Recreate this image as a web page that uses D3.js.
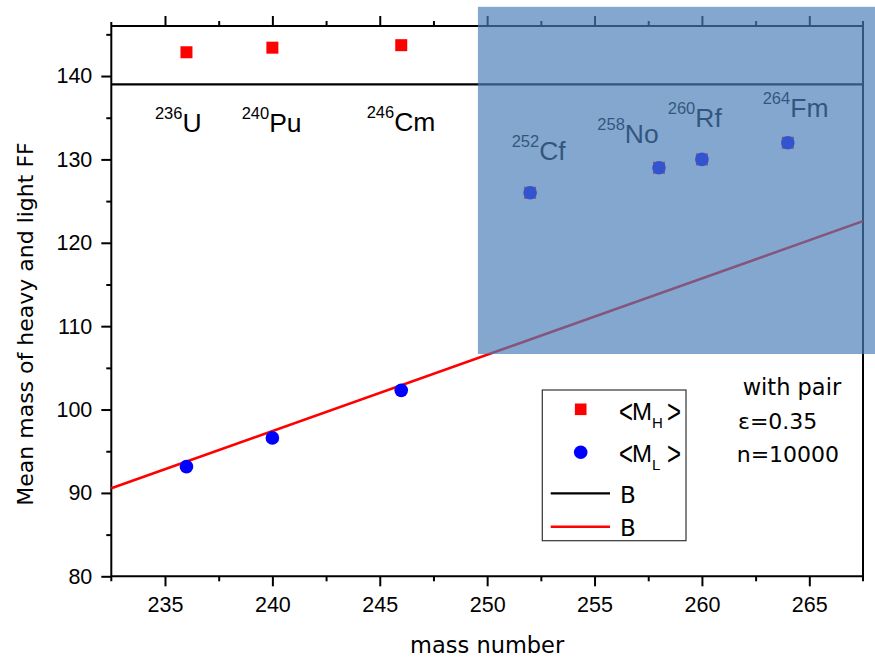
<!DOCTYPE html>
<html><head><meta charset="utf-8">
<script src="https://cdn.jsdelivr.net/npm/d3@7"></script>
<style>body{margin:0;background:#fff}svg{display:block}</style>
</head><body><svg id="c" width="875" height="658"></svg>
<script>
// ---- data ----
const massNumbers = [236, 240, 246, 252, 258, 260, 264];
const heavyMass   = [142.85, 143.4, 143.7, 126.0, 129.0, 130.0, 132.0];
const lightMass   = [93.15, 96.6, 102.3, 126.0, 129.0, 130.0, 132.0];
const nuclideMass = ["236", "240", "246", "252", "258", "260", "264"];
const nuclideSym  = ["U", "Pu", "Cm", "Cf", "No", "Rf", "Fm"];
const labelA      = [234.53, 238.57, 244.39, 251.14, 255.13, 258.41, 262.83];
const labelV      = [133.3, 133.3, 133.4, 129.93, 132.0, 133.92, 135.12];
const blackLineA  = [232.5, 267.5];
const blackLineV  = [139, 139];
const redLineA    = [232.5, 267.5];
const redLineV    = [90.55, 122.6];
const xTicks      = [235, 240, 245, 250, 255, 260, 265];
const xMinor      = [237.5, 242.5, 247.5, 252.5, 257.5, 262.5];
const yTicks      = [80, 90, 100, 110, 120, 130, 140];
const yMinor      = [85, 95, 105, 115, 125, 135, 145];
const shadeA      = [249.57, 268.2];
const shadeV      = [106.66, 148.3];

// ---- layout ----
const svg = d3.select("#c");
const x = d3.scaleLinear().domain([232.5, 267.5]).range([111.3, 863]);
const y = d3.scaleLinear().domain([80, 146]).range([576.3, 26]);
const L = x.range()[0], R = x.range()[1], B = y.range()[0], T = y.range()[1];
const tickFont = "'Liberation Sans', Arial, sans-serif";
const titleFont = "'DejaVu Sans', sans-serif";

// axes
function styleAxis(g){ g.select(".domain").remove(); g.selectAll("line").attr("stroke","#000").attr("stroke-width",2); g.selectAll("text").attr("font-family",tickFont).attr("font-size",21.5).attr("fill","#000"); }
svg.append("g").attr("transform",`translate(0,${B})`)
  .call(d3.axisBottom(x).tickValues(xTicks).tickSize(10).tickPadding(10).tickFormat(d3.format("d"))).call(styleAxis);
svg.append("g").attr("transform",`translate(0,${B})`)
  .call(d3.axisBottom(x).tickValues(xMinor).tickSize(5).tickFormat("")).call(styleAxis);
svg.append("g").attr("transform",`translate(0,${T})`)
  .call(d3.axisTop(x).tickValues(xTicks).tickSize(10).tickFormat("")).call(styleAxis);
svg.append("g").attr("transform",`translate(0,${T})`)
  .call(d3.axisTop(x).tickValues(xMinor).tickSize(5).tickFormat("")).call(styleAxis);
svg.append("g").attr("transform",`translate(${L},0)`)
  .call(d3.axisLeft(y).tickValues(yTicks).tickSize(10).tickPadding(9).tickFormat(d3.format("d"))).call(styleAxis);
svg.append("g").attr("transform",`translate(${L},0)`)
  .call(d3.axisLeft(y).tickValues(yMinor).tickSize(5).tickFormat("")).call(styleAxis);

// frame
const frame = svg.append("g").attr("stroke","#000").attr("stroke-width",2).attr("fill","none");
frame.append("line").attr("x1",L).attr("x2",R+1).attr("y1",B).attr("y2",B);
frame.append("line").attr("x1",L).attr("x2",R).attr("y1",T).attr("y2",T);
frame.append("line").attr("x1",L).attr("x2",L).attr("y1",T-4).attr("y2",B+5);
frame.append("line").attr("x1",R).attr("x2",R).attr("y1",T-5).attr("y2",B+5);

// lines
const line = d3.line().x(d=>x(d[0])).y(d=>y(d[1]));
svg.append("path").datum(blackLineA.map((a,i)=>[a,blackLineV[i]])).attr("d",line)
  .attr("stroke","#000").attr("stroke-width",2.2).attr("fill","none");
svg.append("path").datum(redLineA.map((a,i)=>[a,redLineV[i]])).attr("d",line)
  .attr("stroke","#ff0000").attr("stroke-width",2.6).attr("fill","none");

// points
const sq = 12;
svg.append("g").selectAll("rect").data(massNumbers).join("rect")
  .attr("x",(d)=>x(d)-sq/2).attr("y",(d,i)=>y(heavyMass[i])-sq/2)
  .attr("width",sq).attr("height",sq).attr("fill","#ff0000");
svg.append("g").selectAll("circle").data(massNumbers).join("circle")
  .attr("cx",d=>x(d)).attr("cy",(d,i)=>y(lightMass[i])).attr("r",6.8).attr("fill","#0000ff");

// nuclide labels
const lab = svg.append("g").attr("font-family",tickFont).attr("fill","#000");
nuclideSym.forEach((s,i)=>{
  const t = lab.append("text").attr("x",x(labelA[i])).attr("y",y(labelV[i])).attr("font-size",26.5);
  t.append("tspan").attr("font-size",16.5).attr("dy",-13).text(nuclideMass[i]);
  t.append("tspan").attr("dy",13).text(s);
});

// annotation
const ann = svg.append("g").attr("font-family",titleFont).attr("fill","#000");
ann.append("text").attr("x",742.7).attr("y",395).attr("font-size",22.5).text("with pair");
ann.append("text").attr("x",738).attr("y",429).attr("font-size",22).text("ε=0.35");
ann.append("text").attr("x",736.7).attr("y",462.3).attr("font-size",22).text("n=10000");

// legend
const lg = svg.append("g");
lg.append("rect").attr("x",542.3).attr("y",390).attr("width",143.7).attr("height",150.7)
  .attr("fill","#fff").attr("stroke","#333").attr("stroke-width",1.2);
lg.append("rect").attr("x",580.7-5.8).attr("y",409.3-5.8).attr("width",11.6).attr("height",11.6).attr("fill","#ff0000");
lg.append("circle").attr("cx",580.7).attr("cy",452.3).attr("r",6.8).attr("fill","#0000ff");
lg.append("line").attr("x1",550.7).attr("x2",610).attr("y1",493.3).attr("y2",493.3).attr("stroke","#000").attr("stroke-width",2.2);
lg.append("line").attr("x1",550.7).attr("x2",610).attr("y1",526.7).attr("y2",526.7).attr("stroke","#ff0000").attr("stroke-width",2.4);
const lt = lg.append("g").attr("fill","#000").attr("font-size",23);
function meanLabel(yb, sub){
  const g = lt.append("g");
  g.append("text").attr("x",619).attr("y",yb+2).attr("font-family",tickFont).attr("font-size",24)
    .attr("transform",`translate(0,${yb}) scale(1,1.35) translate(0,${-yb})`).text("<");
  const t = g.append("text").attr("x",632).attr("y",yb).attr("font-family",tickFont).attr("font-size",24);
  t.append("tspan").text("M");
  t.append("tspan").attr("font-size",15).attr("dy",8).text(sub);
  g.append("text").attr("x",667).attr("y",yb+2).attr("font-family",tickFont).attr("font-size",24)
    .attr("transform",`translate(0,${yb}) scale(1,1.35) translate(0,${-yb})`).text(">");
}
meanLabel(420, "H");
meanLabel(462, "L");
lt.append("text").attr("x",620).attr("y",503.3).attr("font-family",titleFont).text("B");
lt.append("text").attr("x",620).attr("y",536).attr("font-family",titleFont).text("B");

// axis titles
svg.append("text").attr("x",(L+R)/2).attr("y",653).attr("text-anchor","middle")
  .attr("font-family",titleFont).attr("font-size",22.5).text("mass number");
svg.append("text").attr("transform","translate(33,324) rotate(-90)").attr("text-anchor","middle")
  .attr("font-family",titleFont).attr("font-size",22).text("Mean mass of heavy and light FF");

// shaded overlay
svg.append("rect").attr("x",x(shadeA[0])).attr("y",y(shadeV[1]))
  .attr("width",x(shadeA[1])-x(shadeA[0])).attr("height",y(shadeV[0])-y(shadeV[1]))
  .attr("fill","rgb(74,125,184)").attr("fill-opacity",0.68);
</script></body></html>
